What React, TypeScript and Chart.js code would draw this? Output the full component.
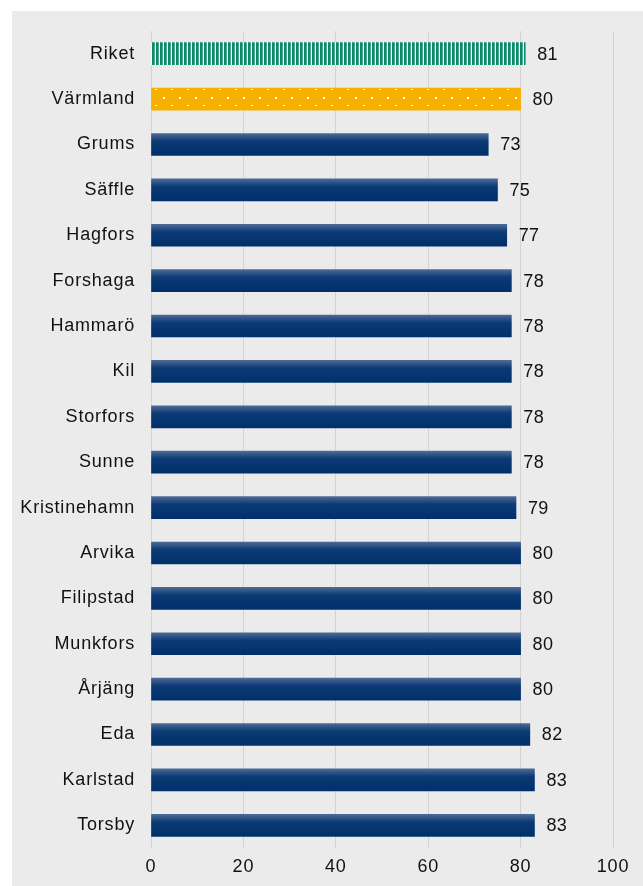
import React, { useEffect, useRef } from "react";
import { Chart, registerables } from "chart.js";

Chart.register(...registerables);

const categories = [
  "Riket", "Värmland", "Grums", "Säffle", "Hagfors", "Forshaga", "Hammarö", "Kil",
  "Storfors", "Sunne", "Kristinehamn", "Arvika", "Filipstad", "Munkfors", "Årjäng",
  "Eda", "Karlstad", "Torsby",
];
const values = [81, 80, 73, 75, 77, 78, 78, 78, 78, 78, 79, 80, 80, 80, 80, 82, 83, 83];
const xTicks = [0, 20, 40, 60, 80, 100];

const FONT = '"Liberation Sans", Arial, Helvetica, sans-serif';

function makeStripes(ctx: CanvasRenderingContext2D) {
  const c = document.createElement("canvas");
  c.width = 4;
  c.height = 4;
  const g = c.getContext("2d")!;
  g.fillStyle = "#0a8a67";
  g.fillRect(0, 0, 4, 4);
  g.fillStyle = "#ffffff";
  g.fillRect(3, 0, 1, 4);
  g.fillStyle = "#4fae93";
  g.fillRect(2, 0, 1, 4);
  return ctx.createPattern(c, "repeat")!;
}

function makeDots(ctx: CanvasRenderingContext2D) {
  const c = document.createElement("canvas");
  c.width = 16;
  c.height = 16;
  const g = c.getContext("2d")!;
  g.fillStyle = "#f8b000";
  g.fillRect(0, 0, 16, 16);
  g.fillStyle = "#ffffff";
  g.fillRect(7, 6, 2, 2);
  g.fillRect(15, 14, 2, 1);
  g.fillRect(0, 14, 1, 1);
  return ctx.createPattern(c, "repeat")!;
}

export default function App() {
  const ref = useRef<HTMLCanvasElement | null>(null);

  useEffect(() => {
    const canvas = ref.current!;
    const ctx = canvas.getContext("2d")!;
    const stripes = makeStripes(ctx);
    const dots = makeDots(ctx);

    const valueLabels = {
      id: "valueLabels",
      beforeDraw(chart: any) {
        (chart.ctx as any).letterSpacing = "0.8px";
      },
      afterDatasetsDraw(chart: any) {
        const c = chart.ctx;
        const meta = chart.getDatasetMeta(0);
        c.save();
        (c as any).letterSpacing = "0.3px";
        c.font = `18px ${FONT}`;
        c.fillStyle = "#111111";
        c.textAlign = "left";
        c.textBaseline = "middle";
        meta.data.forEach((el: any, i: number) => {
          c.fillText(String(values[i]), el.x + 12, el.y + 1);
        });
        c.restore();
      },
    };

    const chart = new Chart(canvas, {
      type: "bar",
      data: {
        labels: categories,
        datasets: [
          {
            data: values,
            barThickness: 22,
            borderWidth: 0,
            backgroundColor: (context: any) => {
              const i = context.dataIndex;
              if (i === 0) return stripes;
              if (i === 1) return dots;
              const chartObj = context.chart;
              const y = chartObj.scales?.y;
              if (!y || i === undefined) return "#003370";
              const cy = y.getPixelForValue(i);
              const g = chartObj.ctx.createLinearGradient(0, cy - 11, 0, cy + 11);
              g.addColorStop(0, "#4d6a95");
              g.addColorStop(0.35, "#0b3a75");
              g.addColorStop(1, "#00306b");
              return g;
            },
          },
        ],
      },
      options: {
        indexAxis: "y",
        responsive: false,
        animation: false,
        devicePixelRatio: 1,
        layout: { padding: { top: 20, right: 30, left: 0, bottom: 0 } },
        plugins: {
          legend: { display: false },
          tooltip: { enabled: false },
        },
        scales: {
          x: {
            min: 0,
            max: 100,
            afterFit: (s: any) => {
              s.height = 38;
            },
            afterBuildTicks: (s: any) => {
              s.ticks = xTicks.map((v) => ({ value: v }));
            },
            grid: { color: "#d3d3d3", lineWidth: 1, drawTicks: false },
            border: { display: false },
            ticks: {
              padding: 8,
              color: "#111111",
              font: { family: FONT, size: 18 },
            },
          },
          y: {
            afterFit: (s: any) => {
              s.width = 139;
              s.paddingTop = 0;
              s.paddingBottom = 0;
            },
            grid: { display: false, drawTicks: false },
            border: { display: false },
            ticks: {
              padding: 16,
              color: "#111111",
              font: { family: FONT, size: 18 },
            },
          },
        },
      },
      plugins: [valueLabels],
    } as any);

    return () => chart.destroy();
  }, []);

  return (
    <div
      style={{
        position: "absolute",
        left: 12,
        top: 11,
        width: 631,
        height: 875,
        background: "#ebebeb",
      }}
    >
      <canvas ref={ref} width={631} height={875} style={{ display: "block" }} />
    </div>
  );
}
